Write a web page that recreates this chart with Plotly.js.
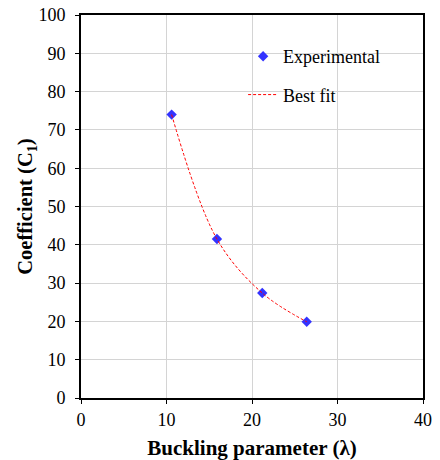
<!DOCTYPE html>
<html><head><meta charset="utf-8">
<script src="https://cdn.plot.ly/plotly-3.0.1.min.js"></script>
<style>html,body{margin:0;padding:0;background:#fff}</style>
</head><body>
<div id="chart" style="width:440px;height:460px"></div>
<script>
var lambdaVals = [10.6, 15.9, 21.2, 26.4];
var c1Vals = [74.0, 41.5, 27.4, 19.9];
var seriesNames = ["Experimental", "Best fit"];
var xTicks = [0, 10, 20, 30, 40];
var yTicks = [0, 10, 20, 30, 40, 50, 60, 70, 80, 90, 100];

var fontFam = "Liberation Serif, Times New Roman, serif";
var traces = [
  {x: lambdaVals, y: c1Vals, mode: "markers", name: seriesNames[0], legendgroup: "a",
   marker: {symbol: "diamond", size: 8, color: "rgb(51,51,255)"}},
  {x: lambdaVals, y: c1Vals, mode: "lines", name: seriesNames[1], legendgroup: "b",
   line: {color: "rgb(255,0,0)", width: 1, dash: "3px,2px", shape: "spline", smoothing: 1}}
];
var axisCommon = {
  showline: true, linecolor: "#000", linewidth: 2, mirror: true,
  showgrid: true, gridcolor: "#d4d4d4", gridwidth: 1,
  ticks: "outside", ticklen: 4, tickcolor: "#000", tickwidth: 1,
  zeroline: false, tickfont: {family: fontFam, size: 18, color: "#000"}
};
var layout = {
  width: 440, height: 460,
  margin: {l: 81, r: 17, t: 15, b: 62},
  paper_bgcolor: "#fff", plot_bgcolor: "#fff",
  showlegend: true,
  legend: {x: 0.474, y: 0.94, xanchor: "left", yanchor: "top",
    bgcolor: "rgba(0,0,0,0)", font: {family: fontFam, size: 18, color: "#000"},
    traceorder: "grouped", tracegroupgap: 12},
  xaxis: Object.assign({}, axisCommon, {range: [0, 40], tickvals: xTicks, ticktext: xTicks.map(String),
    title: {text: "<b>Buckling parameter (λ)</b>", font: {family: fontFam, size: 21, color: "#000"}, standoff: 12}}),
  yaxis: Object.assign({}, axisCommon, {range: [0, 100], tickvals: yTicks, ticktext: yTicks.map(String),
    ticklabelstandoff: 6,
    title: {text: "<b>Coefficient (C<sub>1</sub>)</b>", font: {family: fontFam, size: 20.5, color: "#000"}, standoff: 0}})
};
Plotly.newPlot("chart", traces, layout, {displayModeBar: false, staticPlot: true});
</script>
</body></html>
